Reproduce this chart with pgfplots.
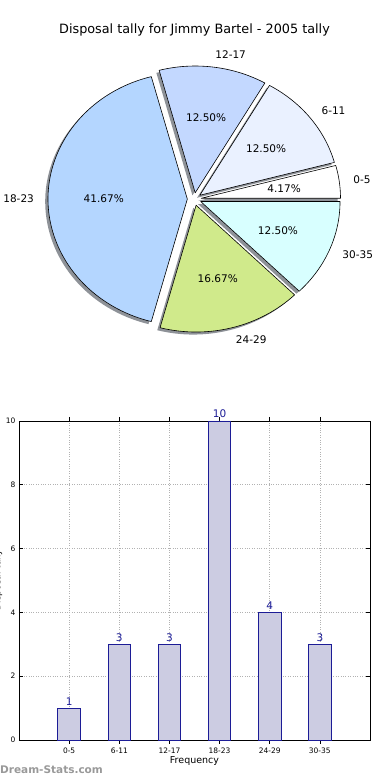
\documentclass[border=0pt]{standalone}
\usepackage{pgfplots}
\pgfplotsset{compat=1.18}
\usepackage{fontspec}
\setmainfont{DejaVu Sans}
\definecolor{c05}{HTML}{FFFFFF}
\definecolor{c611}{HTML}{EAF1FF}
\definecolor{c1217}{HTML}{C3D8FF}
\definecolor{c1823}{HTML}{B4D6FF}
\definecolor{c2429}{HTML}{D0EA8B}
\definecolor{c3035}{HTML}{D8FFFF}
\definecolor{shadowc}{HTML}{8E9298}
\definecolor{navyc}{HTML}{1C1C96}
\definecolor{barc}{HTML}{CCCCE2}
\newcommand{\rx}{139.3pt}
\newcommand{\ry}{126.8pt}
% #1 start count, #2 end count (of 24 = 360 deg)
\newcommand{\pieshadow}[2]{%
  \fill[shadowc] (axis cs:{0.05*cos(7.5*(#1+#2))-0.02},{0.05*sin(7.5*(#1+#2))-0.02})
    -- (axis cs:{0.05*cos(7.5*(#1+#2))-0.02+cos(15*#1)},{0.05*sin(7.5*(#1+#2))-0.02+sin(15*#1)})
    arc[start angle={15*#1}, end angle={15*#2}, x radius=\rx, y radius=\ry] -- cycle;}
% #3 colour, #4 label, #5 percent, #6 anchor of label
\newcommand{\pieslice}[6]{%
  \filldraw[fill=#3, draw=black, line width=0.6pt, line join=round]
    (axis cs:{0.05*cos(7.5*(#1+#2))},{0.05*sin(7.5*(#1+#2))})
    -- (axis cs:{0.05*cos(7.5*(#1+#2))+cos(15*#1)},{0.05*sin(7.5*(#1+#2))+sin(15*#1)})
    arc[start angle={15*#1}, end angle={15*#2}, x radius=\rx, y radius=\ry] -- cycle;
  \node[anchor=#6, inner sep=0pt, font=\fontsize{10.5}{12}\selectfont]
    at (axis cs:{1.15*cos(7.5*(#1+#2))},{1.15*sin(7.5*(#1+#2))}) {#4};
  \node[anchor=center, inner sep=0pt, font=\fontsize{10.5}{12}\selectfont]
    at (axis cs:{0.65*cos(7.5*(#1+#2))},{0.65*sin(7.5*(#1+#2))}) {#5};}
\begin{document}
\begin{tikzpicture}
\useasboundingbox (0pt,0pt) rectangle (390pt,780pt);
\node[font=\fontsize{12.8}{15}\selectfont] at (194.5pt,750pt) {Disposal tally for Jimmy Bartel - 2005 tally};
% pie
\begin{axis}[at={(194.3pt,580.9pt)}, anchor=center, hide axis, clip=false,
  x=\rx, y=\ry, xmin=-1.3, xmax=1.3, ymin=-1.3, ymax=1.3]
  \addplot[draw=none] coordinates {(0,0)};
  \pieshadow{0}{1}
  \pieshadow{1}{4}
  \pieshadow{4}{7}
  \pieshadow{7}{17}
  \pieshadow{17}{21}
  \pieshadow{21}{24}
  \pieslice{0}{1}{c05}{0-5}{4.17\%}{west}
  \pieslice{1}{4}{c611}{6-11}{12.50\%}{west}
  \pieslice{4}{7}{c1217}{12-17}{12.50\%}{west}
  \pieslice{7}{17}{c1823}{18-23}{41.67\%}{east}
  \pieslice{17}{21}{c2429}{24-29}{16.67\%}{west}
  \pieslice{21}{24}{c3035}{30-35}{12.50\%}{west}
\end{axis}
% bars
\begin{axis}[at={(19pt,40pt)}, anchor=south west, scale only axis,
  width=351pt, height=319pt, xmin=0, xmax=7, ymin=0, ymax=10,
  xtick={1,2,3,4,5,6}, xticklabels={0-5,6-11,12-17,18-23,24-29,30-35},
  ytick={0,2,4,6,8,10},
  /pgf/number format/assume math mode=true,
  tick label style={font=\fontsize{7.5}{9}\selectfont},
  grid=major, grid style={dotted, line width=0.6pt, gray!60},
  axis line style={black, line width=0.8pt}, tick style={black, line width=0.6pt},
  major tick length=4pt, tick align=inside,
  xlabel={Frequency},
  xlabel style={at={(axis description cs:0.5,-0.066)}, anchor=center, font=\fontsize{9.5}{11}\selectfont},
  clip=false,
  ybar, bar width=0.45,
  nodes near coords,
  nodes near coords style={font=\fontsize{10.5}{12}\selectfont, text=navyc, inner sep=2.5pt}]
  \addplot[draw=navyc, fill=barc, line width=0.8pt] table {
x y
1 1
2 3
3 3
4 10
5 4
6 3
};
\end{axis}
\begin{scope}
\clip (0pt,0pt) rectangle (390pt,780pt);
\node[rotate=90, anchor=south, inner sep=0pt, font=\fontsize{9}{11}\selectfont] at (2.5pt,200pt) {Disposal tally};
\end{scope}
\node[anchor=west, inner sep=0pt, font=\bfseries\fontsize{10.5}{12}\selectfont, text=black!40] at (0pt,10pt) {Dream-Stats.com};
\end{tikzpicture}
\end{document}
